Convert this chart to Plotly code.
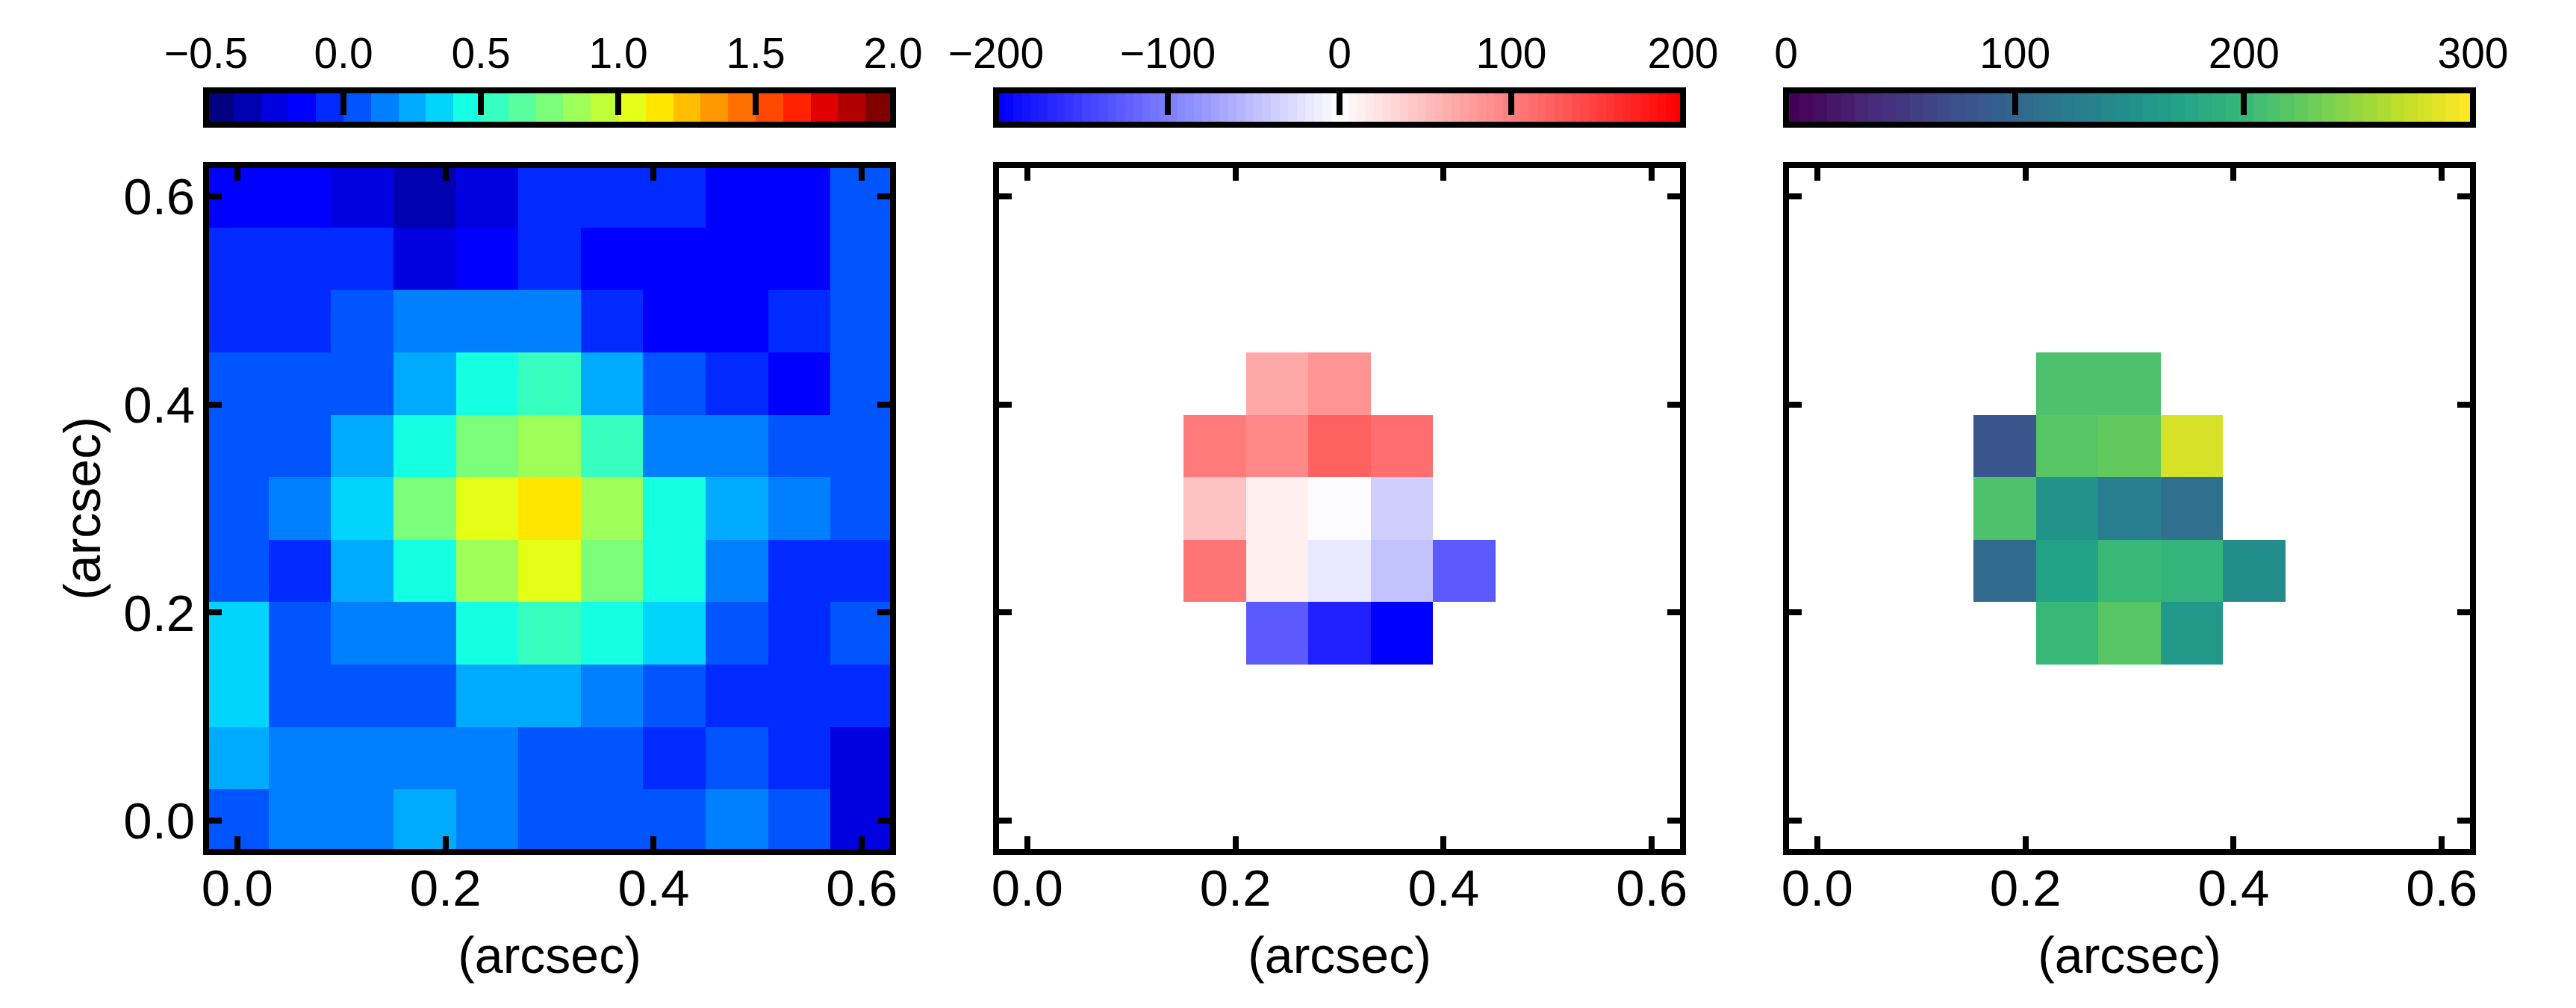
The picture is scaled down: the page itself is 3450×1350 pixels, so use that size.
import numpy as np
import plotly.graph_objects as go
from plotly.colors import sample_colorscale

W, H = 3450, 1350
PAGE_MARGIN = 8  # browser body margin around the plot div
FONT = "Liberation Sans"
LINE = 8

# cell centres, arcsec (top row first)
X_POS = [0.0, 0.06, 0.12, 0.18, 0.24, 0.30, 0.36, 0.42, 0.48, 0.54, 0.60]
Y_POS = [0.60, 0.54, 0.48, 0.42, 0.36, 0.30, 0.24, 0.18, 0.12, 0.06, 0.0]
AXIS_TICKS = [0.0, 0.2, 0.4, 0.6]
AXIS_LABELS = ["0.0", "0.2", "0.4", "0.6"]

flux = [
    [-0.15, -0.15, -0.25, -0.35, -0.25, -0.05, -0.05, -0.05, -0.15, -0.15, 0.05],
    [-0.05, -0.05, -0.05, -0.25, -0.15, -0.05, -0.15, -0.15, -0.15, -0.15, 0.05],
    [-0.05, -0.05, 0.05, 0.15, 0.15, 0.15, -0.05, -0.15, -0.15, -0.05, 0.05],
    [0.05, 0.05, 0.05, 0.25, 0.45, 0.55, 0.25, 0.05, -0.05, -0.15, 0.05],
    [0.05, 0.05, 0.25, 0.45, 0.75, 0.85, 0.55, 0.15, 0.15, 0.05, 0.05],
    [0.05, 0.15, 0.35, 0.75, 1.05, 1.15, 0.85, 0.45, 0.25, 0.15, 0.05],
    [0.05, -0.05, 0.25, 0.45, 0.85, 1.05, 0.75, 0.45, 0.15, -0.05, -0.05],
    [0.35, 0.05, 0.15, 0.15, 0.45, 0.55, 0.45, 0.35, 0.05, -0.05, 0.05],
    [0.35, 0.05, 0.05, 0.05, 0.25, 0.25, 0.15, 0.05, -0.05, -0.05, -0.05],
    [0.25, 0.15, 0.15, 0.15, 0.15, 0.05, 0.05, -0.05, 0.05, -0.05, -0.25],
    [0.05, 0.15, 0.15, 0.25, 0.15, 0.05, 0.05, 0.05, 0.15, 0.05, -0.25],
]

n = None
velocity = [
    [n, n, n, n, n, n, n, n, n, n, n],
    [n, n, n, n, n, n, n, n, n, n, n],
    [n, n, n, n, n, n, n, n, n, n, n],
    [n, n, n, n, 68, 82, n, n, n, n, n],
    [n, n, n, 102, 90, 120, 112, n, n, n, n],
    [n, n, n, 46, 10, -4, -38, n, n, n, n],
    [n, n, n, 106, 12, -18, -49, -128, n, n, n],
    [n, n, n, n, -129, -175, -200, n, n, n, n],
    [n, n, n, n, n, n, n, n, n, n, n],
    [n, n, n, n, n, n, n, n, n, n, n],
    [n, n, n, n, n, n, n, n, n, n, n],
]

dispersion = [
    [n, n, n, n, n, n, n, n, n, n, n],
    [n, n, n, n, n, n, n, n, n, n, n],
    [n, n, n, n, n, n, n, n, n, n, n],
    [n, n, n, n, 214, 214, n, n, n, n, n],
    [n, n, n, 82, 219, 226, 279, n, n, n, n],
    [n, n, n, 214, 150, 126, 108, n, n, n, n],
    [n, n, n, 104, 170, 200, 192, 147, n, n, n],
    [n, n, n, n, 200, 219, 159, n, n, n, n],
    [n, n, n, n, n, n, n, n, n, n, n],
    [n, n, n, n, n, n, n, n, n, n, n],
    [n, n, n, n, n, n, n, n, n, n, n],
]

FLUX_TICKS = [-0.5, 0.0, 0.5, 1.0, 1.5, 2.0]
FLUX_LABELS = ["\u22120.5", "0.0", "0.5", "1.0", "1.5", "2.0"]
VEL_TICKS = [-200, -100, 0, 100, 200]
VEL_LABELS = ["\u2212200", "\u2212100", "0", "100", "200"]
DISP_TICKS = [0, 100, 200, 300]
DISP_LABELS = ["0", "100", "200", "300"]


def jet(t):
    r = np.interp(t, [0, 0.35, 0.66, 0.89, 1], [0, 0, 1, 1, 0.5])
    g = np.interp(t, [0, 0.125, 0.375, 0.64, 0.91, 1], [0, 0, 1, 1, 0, 0])
    b = np.interp(t, [0, 0.11, 0.34, 0.65, 1], [0.5, 1, 1, 0, 0])
    return f"rgb({r * 255:.0f},{g * 255:.0f},{b * 255:.0f})"


def stepped(colors):
    # hard edged colour scale, one flat band per colour
    k = len(colors)
    out = []
    for i, c in enumerate(colors):
        out += [[i / k, c], [(i + 1) / k, c]]
    return out


JET_STEPS = stepped([jet(i / 24) for i in range(25)])
BWR_STEPS = stepped(sample_colorscale([[0, "#0000ff"], [0.5, "#ffffff"], [1, "#ff0000"]],
                                      list(np.linspace(0, 1, 80))))
VIRIDIS_STEPS = stepped(sample_colorscale("Viridis", list(np.linspace(0, 1, 50))))

# pixel positions of the spine centres
PANEL_LEFT = [276 - PAGE_MARGIN, 1334 - PAGE_MARGIN, 2392 - PAGE_MARGIN]
PANEL_W = 920
PANEL_TOP, PANEL_BOTTOM = 221 - PAGE_MARGIN, 1141 - PAGE_MARGIN
BAR_TOP, BAR_BOTTOM = 121 - PAGE_MARGIN, 167 - PAGE_MARGIN

# plotly draws axis lines outside the plot area, so the panels use the inner edge
INSET = LINE / 2
PAD = 0.66 * INSET / PANEL_W
PANEL_RANGE = [-0.03 + PAD, 0.63 - PAD]

panels = [
    (flux, JET_STEPS, -0.5, 2.0, FLUX_TICKS, FLUX_LABELS, 25),
    (velocity, BWR_STEPS, -200, 200, VEL_TICKS, VEL_LABELS, 80),
    (dispersion, VIRIDIS_STEPS, 0, 300, DISP_TICKS, DISP_LABELS, 50),
]

fig = go.Figure()
layout = {}
axis_font = dict(family=FONT, size=69, color="black")
bar_font = dict(family=FONT, size=57, color="black")
title_font = dict(family=FONT, size=68, color="black")

for i, (z, scale, zmin, zmax, ticks, labels, levels) in enumerate(panels):
    left = PANEL_LEFT[i]
    xa, ya = 2 * i + 1, 2 * i + 2

    fig.add_trace(go.Heatmap(x=X_POS, y=Y_POS, z=z, zmin=zmin, zmax=zmax, colorscale=scale,
                             showscale=False, xaxis=f"x{xa}", yaxis=f"y{xa}"))

    # colour bar is its own little axes above the panel
    edges = np.linspace(zmin, zmax, levels + 1)
    centres = (edges[:-1] + edges[1:]) / 2
    fig.add_trace(go.Heatmap(x=centres, y=[0], z=[centres], zmin=zmin, zmax=zmax, colorscale=scale,
                             showscale=False, xaxis=f"x{ya}", yaxis=f"y{ya}"))

    layout[f"xaxis{xa}"] = dict(
        domain=[(left + INSET) / W, (left + PANEL_W - INSET) / W], anchor=f"y{xa}",
        range=PANEL_RANGE, tickmode="array", automargin=False,
        tickvals=AXIS_TICKS, ticktext=AXIS_LABELS, ticks="inside", ticklen=17, tickwidth=LINE,
        tickcolor="black", showline=True, linecolor="black", linewidth=LINE, mirror="allticks",
        showgrid=False, zeroline=False, tickfont=axis_font, ticklabelstandoff=-15,
        title=dict(text="(arcsec)", font=title_font, standoff=32),
    )
    layout[f"yaxis{xa}"] = dict(
        domain=[1 - (PANEL_BOTTOM - INSET) / H, 1 - (PANEL_TOP + INSET) / H], anchor=f"x{xa}",
        range=PANEL_RANGE, tickmode="array", tickvals=AXIS_TICKS, ticktext=AXIS_LABELS,
        ticks="inside", ticklen=17, tickwidth=LINE, tickcolor="black", showline=True,
        linecolor="black", linewidth=LINE, mirror="allticks", showgrid=False, zeroline=False,
        tickfont=axis_font, automargin=False, showticklabels=(i == 0), ticklabelstandoff=-3,
    )
    if i == 0:
        layout[f"yaxis{xa}"]["title"] = dict(text="(arcsec)", standoff=11, font=title_font)

    # no axis line here: end ticks must stay in range, the frame is a shape instead
    layout[f"xaxis{ya}"] = dict(
        domain=[left / W, (left + PANEL_W) / W], anchor=f"y{ya}", side="top", range=[zmin, zmax],
        tickmode="array", tickvals=ticks, ticktext=labels, ticks="inside", ticklen=33,
        tickwidth=LINE, automargin=False, tickcolor="black", showline=False, showgrid=False,
        zeroline=False, tickfont=bar_font, ticklabelstandoff=18,
    )
    layout[f"yaxis{ya}"] = dict(
        domain=[1 - BAR_BOTTOM / H, 1 - BAR_TOP / H], anchor=f"x{ya}", range=[-0.5, 0.5],
        automargin=False, showticklabels=False, ticks="", showline=False, showgrid=False,
        zeroline=False,
    )
    fig.add_shape(type="rect", xref=f"x{ya} domain", yref=f"y{ya} domain", x0=0, x1=1, y0=0, y1=1,
                  line=dict(color="black", width=LINE), layer="above")

fig.update_layout(width=W, height=H, margin=dict(l=0, r=0, t=0, b=0), autosize=False,
                  paper_bgcolor="white", plot_bgcolor="white", showlegend=False, **layout)
fig.write_html("out.html")
